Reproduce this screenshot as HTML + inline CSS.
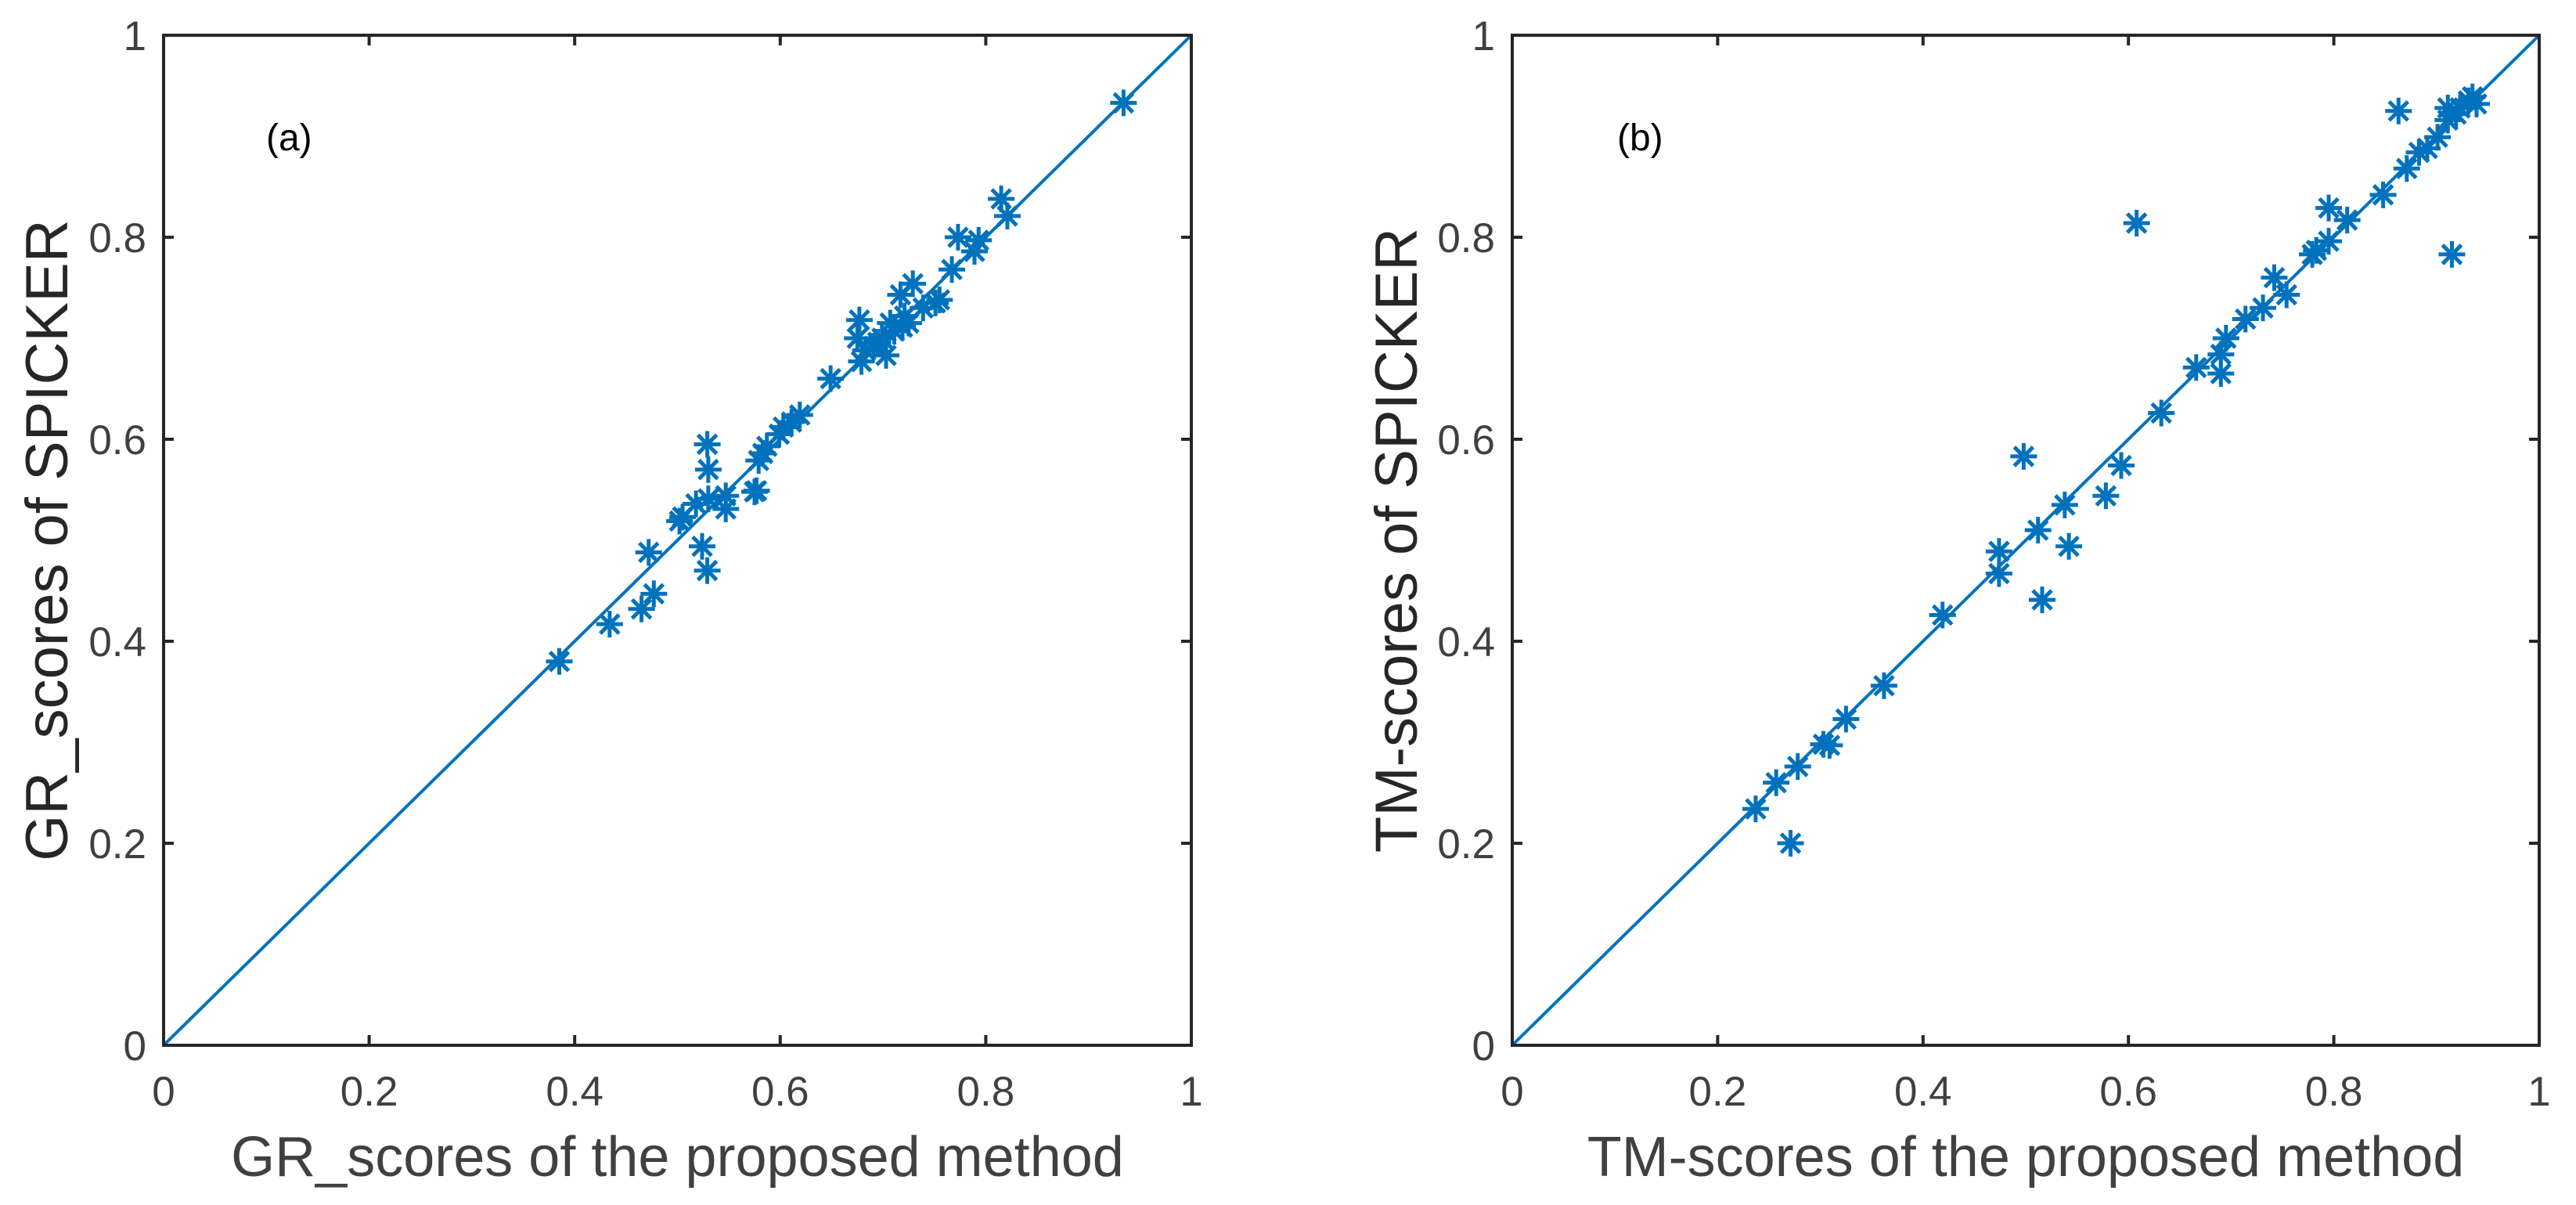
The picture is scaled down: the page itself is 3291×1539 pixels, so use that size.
<!DOCTYPE html>
<html><head><meta charset="utf-8"><style>
html,body{margin:0;padding:0;background:#fff;}
svg{display:block;font-family:"Liberation Sans",Arial,sans-serif;}
</style></head><body>
<svg id="fig" width="3291" height="1539" viewBox="0 0 3291 1539" xmlns="http://www.w3.org/2000/svg"></svg>
<script>
const ticks = [0, 0.2, 0.4, 0.6, 0.8, 1];
const tickLabels = ["0", "0.2", "0.4", "0.6", "0.8", "1"];
const grX = [.934,.815,.821,.773,.793,.789,.767,.729,.717,.721,.739,.751,.755,.677,.675,.683,.691,.703,.711,.707,.699,.719,.725,.679,.695,.649,.619,.611,.603,.599,.587,.583,.579,.577,.575,.547,.547,.530,.518,.529,.530,.505,.502,.524,.529,.472,.477,.465,.434,.385];
const grY = [.933,.838,.821,.800,.797,.786,.768,.754,.743,.722,.730,.735,.738,.718,.700,.688,.692,.683,.707,.715,.700,.711,.715,.677,.696,.660,.624,.617,.612,.605,.593,.586,.579,.549,.548,.544,.531,.541,.536,.595,.570,.523,.519,.494,.470,.488,.447,.432,.417,.380];
const tmX = [.237,.257,.278,.303,.309,.325,.362,.271,.419,.474,.474,.498,.512,.538,.542,.516,.578,.593,.608,.632,.666,.690,.690,.695,.714,.731,.742,.754,.779,.783,.795,.795,.813,.848,.871,.883,.891,.901,.863,.911,.915,.919,.923,.931,.935,.939,.911];
const tmY = [.234,.260,.276,.298,.297,.323,.356,.200,.426,.489,.467,.583,.510,.535,.494,.441,.544,.574,.814,.626,.671,.665,.684,.700,.719,.730,.760,.743,.783,.787,.796,.829,.817,.842,.868,.884,.888,.899,.925,.916,.783,.922,.928,.935,.939,.932,.928];

const NS = "http://www.w3.org/2000/svg";
const svg = document.getElementById("fig");
function mk(tag, attrs, parent) {
  const e = document.createElementNS(NS, tag);
  for (const k in attrs) e.setAttribute(k, attrs[k]);
  (parent || svg).appendChild(e);
  return e;
}
const panels = [
  {id:"a", x0:209, x1:1522, xs:grX, ys:grY, ylab:"GR_scores of SPICKER", xlab:"GR_scores of the proposed method", ytitleX:60, tag:"(a)", tagX:340},
  {id:"b", x0:1932, x1:3244, xs:tmX, ys:tmY, ylab:"TM-scores of SPICKER", xlab:"TM-scores of the proposed method", ytitleX:1784, tag:"(b)", tagX:2066}
];
const Y0 = 1335, Y1 = 45;
panels.forEach(p => {
  const g = mk("g", {});
  
  
  const sx = v => p.x0 + v * (p.x1 - p.x0);
  const sy = v => Y0 - v * (Y0 - Y1);
  const diag = mk("line", {x1:sx(0), y1:sy(0), x2:sx(1), y2:sy(1), stroke:"#0072BD", "stroke-width":4}, g);
  
  
  const mg = mk("g", {stroke:"#0072BD", "stroke-width":5, fill:"none"}, g);
  
  
  p.xs.forEach((v, i) => {
    const cx = sx(v), cy = sy(p.ys[i]), r = 17, d = 12;
    const path = mk("path", {d:`M${cx-r} ${cy}H${cx+r}M${cx} ${cy-r}V${cy+r}M${cx-d} ${cy-d}L${cx+d} ${cy+d}M${cx-d} ${cy+d}L${cx+d} ${cy-d}`}, mg);
    
    
  });
  const box = mk("rect", {x:p.x0, y:Y1, width:p.x1-p.x0, height:Y0-Y1, fill:"none", stroke:"#262626", "stroke-width":4}, g);
  
  
  ticks.forEach((t, i) => {
    const x = sx(t), y = sy(t);
    mk("path", {d:`M${x} ${Y0}V${Y0-13}M${x} ${Y1}V${Y1+13}M${p.x0} ${y}H${p.x0+13}M${p.x1} ${y}H${p.x1-13}`, stroke:"#262626", "stroke-width":4}, g);
    const xt = mk("text", {x:x, y:1412, "font-size":53, fill:"#404040", "text-anchor":"middle"}, g);
    xt.textContent = tickLabels[i];
    
    
    const yt = mk("text", {x:p.x0-22, y:y+19, "font-size":53, fill:"#404040", "text-anchor":"end"}, g);
    yt.textContent = tickLabels[i];
    
    
  });
  const xl = mk("text", {x:(p.x0+p.x1)/2, y:1502, "font-size":72, fill:"#404040", "text-anchor":"middle"}, g);
  xl.textContent = p.xlab;
  
  
  const yl = mk("text", {x:0, y:0, "font-size":76, fill:"#262626", "text-anchor":"middle", transform:`translate(${p.ytitleX+26},690) rotate(-90)`}, g);
  yl.textContent = p.ylab;
  
  
  const tg = mk("text", {x:p.tagX, y:192, "font-size":48, fill:"#000"}, g);
  tg.textContent = p.tag;
  
  
});
</script>
</body></html>
